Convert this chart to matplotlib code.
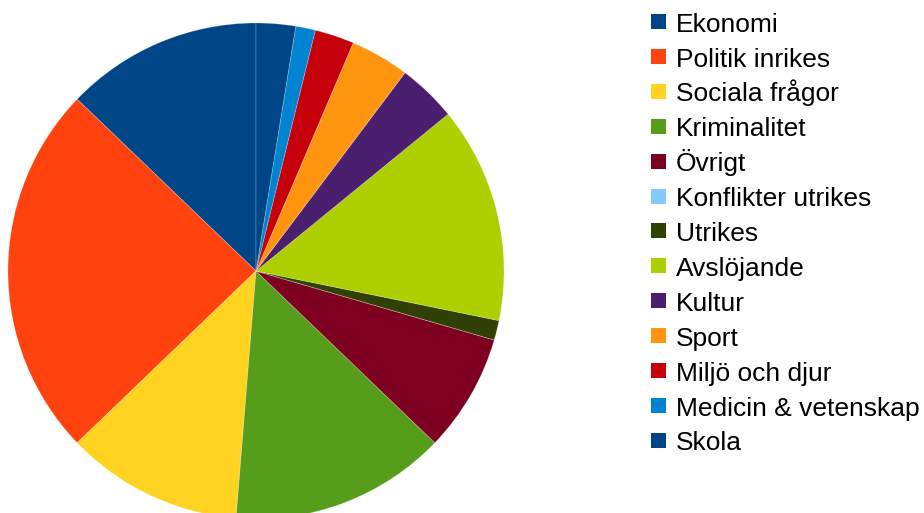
import matplotlib.pyplot as plt
from matplotlib.patches import Rectangle

plt.rcParams['font.family'] = ['Liberation Sans', 'DejaVu Sans']

# categories and counts, counterclockwise from 12 o'clock
categories = ['Ekonomi', 'Politik inrikes', 'Sociala frågor', 'Kriminalitet',
              'Övrigt', 'Konflikter utrikes', 'Utrikes', 'Avslöjande', 'Kultur',
              'Sport', 'Miljö och djur', 'Medicin & vetenskap', 'Skola']
counts = [10, 19, 9, 11, 6, 0, 1, 11, 3, 3, 2, 1, 2]
colors = ['#004586', '#ff420e', '#ffd320', '#579d1c', '#7e0021', '#83caff',
          '#314004', '#aecf00', '#4b1f6f', '#ff950e', '#c5000b', '#0084d1',
          '#004586']

W, H = 924, 513
fig = plt.figure(figsize=(W / 100, H / 100), dpi=100)

# pie centre (256, 271) px, radius 248 px
cx, cy, r = 256, 271, 248
ax = fig.add_axes([(cx - r) / W, (H - cy - r) / H, 2 * r / W, 2 * r / H])
wedges, _ = ax.pie(counts, colors=colors, startangle=90, counterclock=True,
                   radius=1, wedgeprops=dict(linewidth=0.6, edgecolor=(1, 1, 1, 0.25)))
ax.set_xlim(-1, 1)
ax.set_ylim(-1, 1)
ax.set_aspect('equal')
ax.axis('off')

# legend drawn by hand so the rows are evenly spaced
row_step = 34.9
for i, (label, w) in enumerate(zip(categories, wedges)):
    top = 14 + row_step * i          # square top, px from top
    fig.patches.append(Rectangle((651 / W, 1 - (top + 15) / H), 15 / W, 15 / H,
                                 facecolor=w.get_facecolor(), edgecolor='none',
                                 transform=fig.transFigure, figure=fig))
    fig.text(676 / W, 1 - (31.7 + row_step * i) / H, label, fontsize=19,
             ha='left', va='baseline')

fig.savefig('out.png', dpi=100)
